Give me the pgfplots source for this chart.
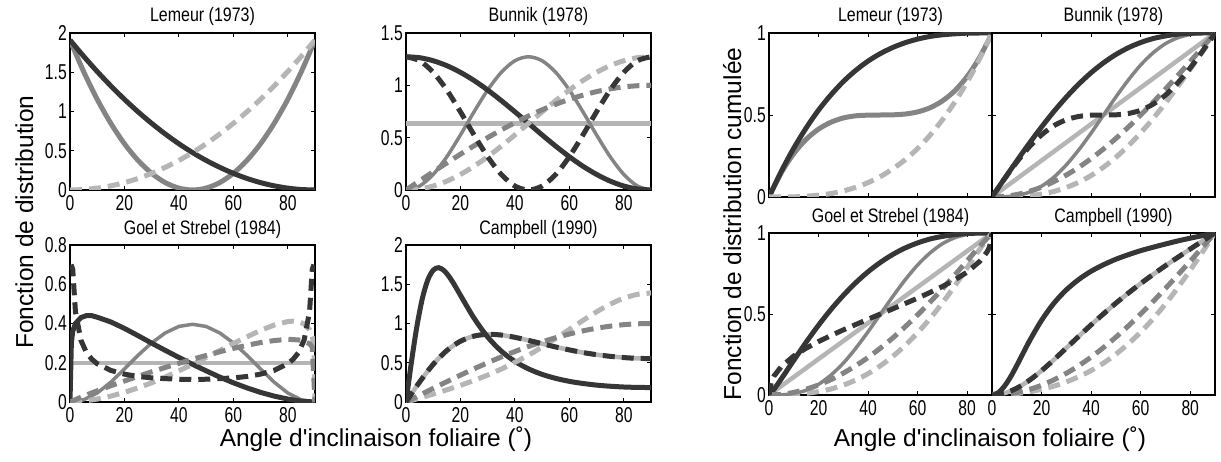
\documentclass[border=0pt]{standalone}
\usepackage{fontspec}
\setmainfont{Liberation Sans}
\newfontfamily\condfont[FakeStretch=0.73]{Liberation Sans}
\newfontfamily\tcondfont[FakeStretch=0.82]{Liberation Sans}
\usepackage{pgfplots}
\pgfplotsset{compat=1.18}
\definecolor{cdark}{HTML}{363636}
\definecolor{cmid}{HTML}{848484}
\definecolor{clight}{HTML}{B5B5B5}
\newcommand\tickfont{\condfont\fontsize{21.5}{23}\selectfont}
\newcommand\titlefont{\tcondfont\fontsize{19.5}{22}\selectfont}
\newcommand\labelfont{\fontsize{24.5}{28}\selectfont}
\pgfplotsset{
  panel/.style={scale only axis, anchor=south west, xmin=0, xmax=90,
    xtick={0,20,40,60,80}, xticklabels={0,20,40,60,80},
    tick align=inside, major tick length=4pt,
    axis line style={line width=1.2pt},
    every tick/.append style={black, line width=0.9pt},
    tick label style={font=\tickfont, inner sep=1pt},
    xticklabel style={yshift=-4pt}, yticklabel style={xshift=-2pt},
    title style={font=\titlefont, at={(0.5,1)}, anchor=base, yshift=5pt, xshift=10pt},
    no markers},
  dsol/.style={cdark, line width=5pt, solid},
  msol/.style={cmid, line width=5pt, solid},
  msolt/.style={cmid, line width=3.5pt, solid},
  lsol/.style={clight, line width=4.5pt, solid},
  ddash/.style={cdark, line width=5pt, dash pattern=on 12pt off 7pt},
  mdash/.style={cmid, line width=5pt, dash pattern=on 12pt off 7pt},
  ldash/.style={clight, line width=5pt, dash pattern=on 12pt off 7pt},
}
\begin{document}
\begin{tikzpicture}
\useasboundingbox (0,0) rectangle (1221pt,461pt);
% ---------------- Lemeur density
\begin{axis}[panel, at={(70pt,271pt)}, width=245pt, height=157pt, ymin=0, ymax=2,
  ytick={0,0.5,1,1.5,2}, yticklabels={0,0.5,1,1.5,2}, title={Lemeur (1973)}]
\addplot[msol, smooth] coordinates {(0,1.910)(5,1.509)(10,1.155)(15,0.849)(20,0.589)(25,0.377)(30,0.212)(35,0.094)(40,0.024)(45,0)(50,0.024)(55,0.094)(60,0.212)(65,0.377)(70,0.589)(75,0.849)(80,1.155)(85,1.509)(90,1.910)};
\addplot[dsol, smooth] coordinates {(0,1.910)(5,1.704)(10,1.509)(15,1.326)(20,1.155)(25,0.996)(30,0.849)(35,0.713)(40,0.589)(45,0.477)(50,0.377)(55,0.289)(60,0.212)(65,0.147)(70,0.094)(75,0.053)(80,0.024)(85,0.006)(90,0)};
\addplot[ldash, smooth] coordinates {(0,0)(5,0.006)(10,0.024)(15,0.053)(20,0.094)(25,0.147)(30,0.212)(35,0.289)(40,0.377)(45,0.477)(50,0.589)(55,0.713)(60,0.849)(65,0.996)(70,1.155)(75,1.326)(80,1.509)(85,1.704)(90,1.910)};
\end{axis}
% ---------------- Bunnik density
\begin{axis}[panel, at={(406pt,271pt)}, width=245pt, height=157pt, ymin=0, ymax=1.5,
  ytick={0,0.5,1,1.5}, yticklabels={0,0.5,1,1.5}, title={Bunnik (1978)}]
\addplot[lsol] coordinates {(0,0.637)(90,0.637)};
\addplot[msolt, smooth] coordinates {(0,0)(5,0.038)(10,0.149)(15,0.318)(20,0.526)(25,0.747)(30,0.955)(35,1.124)(40,1.235)(45,1.273)(50,1.235)(55,1.124)(60,0.955)(65,0.747)(70,0.526)(75,0.318)(80,0.149)(85,0.038)(90,0)};
\addplot[dsol, smooth] coordinates {(0,1.273)(5,1.264)(10,1.235)(15,1.188)(20,1.124)(25,1.046)(30,0.955)(35,0.854)(40,0.747)(45,0.637)(50,0.526)(55,0.419)(60,0.318)(65,0.227)(70,0.149)(75,0.085)(80,0.038)(85,0.010)(90,0)};
\addplot[ldash, smooth] coordinates {(0,0)(5,0.010)(10,0.038)(15,0.085)(20,0.149)(25,0.227)(30,0.318)(35,0.419)(40,0.526)(45,0.637)(50,0.747)(55,0.854)(60,0.955)(65,1.046)(70,1.124)(75,1.188)(80,1.235)(85,1.264)(90,1.273)};
\addplot[mdash, smooth] coordinates {(0,0)(5,0.087)(10,0.174)(15,0.259)(20,0.342)(25,0.423)(30,0.500)(35,0.574)(40,0.643)(45,0.707)(50,0.766)(55,0.819)(60,0.866)(65,0.906)(70,0.940)(75,0.966)(80,0.985)(85,0.996)(90,1)};
\addplot[ddash, smooth] coordinates {(0,1.273)(5,1.235)(10,1.124)(15,0.955)(20,0.747)(25,0.526)(30,0.318)(35,0.149)(40,0.038)(45,0)(50,0.038)(55,0.149)(60,0.318)(65,0.526)(70,0.747)(75,0.955)(80,1.124)(85,1.235)(90,1.273)};
\end{axis}
% ---------------- Goel density
\begin{axis}[panel, at={(70pt,59pt)}, width=245pt, height=157pt, ymin=0, ymax=0.8,
  ytick={0,0.2,0.4,0.6,0.8}, yticklabels={0,0.2,0.4,0.6,0.8}, title={Goel et Strebel (1984)}]
\addplot[lsol] coordinates {(0,0.2)(90,0.2)};
\addplot[msolt] coordinates {(0,0)(5,0.011)(10,0.046)(15,0.101)(20,0.168)(25,0.238)(30,0.301)(35,0.352)(40,0.385)(45,0.396)(50,0.385)(55,0.352)(60,0.301)(65,0.238)(70,0.168)(75,0.101)(80,0.046)(85,0.011)(90,0)};
\addplot[dsol] coordinates {(0,0)(0.5,0.30)(1,0.36)(2,0.40)(4,0.43)(6,0.44)(8,0.44)(10,0.432)(15,0.408)(20,0.375)(25,0.338)(30,0.300)(35,0.263)(40,0.227)(45,0.192)(50,0.159)(55,0.127)(60,0.098)(65,0.072)(70,0.049)(75,0.030)(80,0.015)(85,0.004)(90,0)};
\addplot[ldash] coordinates {(0,0)(5,0.004)(10,0.015)(15,0.030)(20,0.049)(25,0.072)(30,0.098)(35,0.127)(40,0.159)(45,0.192)(50,0.227)(55,0.262)(60,0.298)(65,0.332)(70,0.365)(75,0.392)(80,0.410)(82,0.412)(84,0.409)(86,0.398)(88,0.368)(89,0.333)(89.6,0.29)(90,0)};
\addplot[mdash] coordinates {(0,0)(5,0.030)(10,0.057)(15,0.083)(20,0.107)(25,0.131)(30,0.154)(35,0.176)(40,0.197)(45,0.218)(50,0.237)(55,0.256)(60,0.273)(65,0.289)(70,0.303)(75,0.313)(80,0.320)(85,0.315)(88,0.297)(89,0.280)(90,0)};
\addplot[ddash] coordinates {(0.4,0.70)(1,0.677)(2,0.460)(4,0.315)(6,0.253)(8,0.218)(10,0.195)(15,0.161)(20,0.142)(25,0.130)(30,0.123)(35,0.119)(40,0.116)(45,0.115)(50,0.116)(55,0.119)(60,0.123)(65,0.130)(70,0.142)(75,0.161)(80,0.195)(82,0.218)(84,0.253)(86,0.315)(88,0.460)(89,0.677)(89.6,0.70)};
\end{axis}
% ---------------- Campbell density
\begin{axis}[panel, at={(406pt,59pt)}, width=245pt, height=157pt, ymin=0, ymax=2,
  ytick={0,0.5,1,1.5,2}, yticklabels={0,0.5,1,1.5,2}, title={Campbell (1990)}]
\addplot[lsol, smooth] coordinates {(0,0)(5,0.255)(10,0.480)(15,0.656)(20,0.774)(25,0.840)(30,0.862)(35,0.853)(40,0.824)(45,0.785)(50,0.743)(55,0.701)(60,0.664)(65,0.630)(70,0.603)(75,0.582)(80,0.566)(85,0.556)(90,0.553)};
\addplot[dsol, smooth] coordinates {(0,0)(2,0.510)(4,0.963)(6,1.318)(8,1.555)(10,1.680)(12,1.711)(14,1.673)(16,1.589)(18,1.480)(20,1.360)(25,1.068)(30,0.828)(35,0.648)(40,0.517)(45,0.422)(50,0.352)(55,0.301)(60,0.263)(65,0.236)(70,0.215)(75,0.201)(80,0.191)(85,0.186)(90,0.184)};
\addplot[ldash, smooth] coordinates {(0,0)(5,0.050)(10,0.101)(15,0.155)(20,0.212)(25,0.275)(30,0.343)(35,0.420)(40,0.505)(45,0.598)(50,0.700)(55,0.810)(60,0.924)(65,1.039)(70,1.149)(75,1.246)(80,1.322)(85,1.371)(90,1.389)};
\addplot[mdash, smooth] coordinates {(0,0)(5,0.087)(10,0.174)(15,0.259)(20,0.342)(25,0.423)(30,0.500)(35,0.574)(40,0.643)(45,0.707)(50,0.766)(55,0.819)(60,0.866)(65,0.906)(70,0.940)(75,0.966)(80,0.985)(85,0.996)(90,1)};
\addplot[ddash, smooth] coordinates {(0,0)(5,0.255)(10,0.480)(15,0.656)(20,0.774)(25,0.840)(30,0.862)(35,0.853)(40,0.824)(45,0.785)(50,0.743)(55,0.701)(60,0.664)(65,0.630)(70,0.603)(75,0.582)(80,0.566)(85,0.556)(90,0.553)};
\end{axis}
% ================= Cumulative
\begin{axis}[panel, at={(769pt,264pt)}, width=223pt, height=164pt, ymin=0, ymax=1,
  ytick={0,0.5,1}, yticklabels={0,0.5,1}, xticklabels={}, title={Lemeur (1973)}]
\addplot[msol, smooth] coordinates {(0,0)(5,0.149)(10,0.265)(15,0.352)(20,0.414)(25,0.456)(30,0.482)(35,0.495)(40,0.499)(45,0.5)(50,0.501)(55,0.506)(60,0.519)(65,0.544)(70,0.586)(75,0.648)(80,0.735)(85,0.851)(90,1)};
\addplot[dsol, smooth] coordinates {(0,0)(5,0.158)(10,0.298)(15,0.421)(20,0.530)(25,0.623)(30,0.704)(35,0.772)(40,0.829)(45,0.875)(50,0.912)(55,0.941)(60,0.963)(65,0.979)(70,0.989)(75,0.995)(80,0.999)(85,1)(90,1)};
\addplot[ldash, smooth] coordinates {(0,0)(5,0.0002)(10,0.001)(15,0.005)(20,0.011)(25,0.021)(30,0.037)(35,0.059)(40,0.088)(45,0.125)(50,0.172)(55,0.228)(60,0.296)(65,0.377)(70,0.471)(75,0.579)(80,0.702)(85,0.842)(90,1)};
\end{axis}
\begin{axis}[panel, at={(992pt,264pt)}, width=223pt, height=164pt, ymin=0, ymax=1,
  ytick={0,0.5,1}, yticklabels={}, xticklabels={}, title={Bunnik (1978)}]
\addplot[lsol] coordinates {(0,0)(90,1)};
\addplot[msolt, smooth] coordinates {(0,0)(5,0.001)(10,0.009)(15,0.029)(20,0.066)(25,0.121)(30,0.196)(35,0.287)(40,0.390)(45,0.5)(50,0.610)(55,0.713)(60,0.805)(65,0.879)(70,0.935)(75,0.971)(80,0.991)(85,0.999)(90,1)};
\addplot[dsol, smooth] coordinates {(0,0)(5,0.111)(10,0.220)(15,0.326)(20,0.427)(25,0.522)(30,0.609)(35,0.688)(40,0.758)(45,0.818)(50,0.869)(55,0.910)(60,0.942)(65,0.966)(70,0.982)(75,0.993)(80,0.998)(85,1)(90,1)};
\addplot[ldash, smooth] coordinates {(0,0)(5,0.0003)(10,0.002)(15,0.008)(20,0.018)(25,0.034)(30,0.058)(35,0.090)(40,0.131)(45,0.182)(50,0.242)(55,0.312)(60,0.391)(65,0.478)(70,0.573)(75,0.674)(80,0.780)(85,0.889)(90,1)};
\addplot[mdash, smooth] coordinates {(0,0)(5,0.004)(10,0.015)(15,0.034)(20,0.060)(25,0.094)(30,0.134)(35,0.181)(40,0.234)(45,0.293)(50,0.357)(55,0.426)(60,0.5)(65,0.577)(70,0.658)(75,0.741)(80,0.826)(85,0.913)(90,1)};
\addplot[ddash, smooth] coordinates {(0,0)(5,0.110)(10,0.213)(15,0.305)(20,0.379)(25,0.435)(30,0.471)(35,0.491)(40,0.499)(45,0.5)(50,0.501)(55,0.509)(60,0.529)(65,0.566)(70,0.621)(75,0.696)(80,0.787)(85,0.890)(90,1)};
\end{axis}
\begin{axis}[panel, at={(769pt,66pt)}, width=223pt, height=162pt, ymin=0, ymax=1,
  ytick={0,0.5,1}, yticklabels={0,0.5,1}, title={Goel et Strebel (1984)}]
\addplot[lsol] coordinates {(0,0)(90,1)};
\addplot[msolt, smooth] coordinates {(0,0)(5,0.001)(10,0.009)(15,0.029)(20,0.066)(25,0.123)(30,0.197)(35,0.288)(40,0.391)(45,0.5)(50,0.609)(55,0.712)(60,0.803)(65,0.877)(70,0.934)(75,0.971)(80,0.991)(85,0.999)(90,1)};
\addplot[dsol, smooth] coordinates {(0,0)(2,0.035)(4,0.078)(6,0.123)(8,0.169)(10,0.214)(15,0.326)(20,0.431)(25,0.528)(30,0.615)(35,0.693)(40,0.761)(45,0.819)(50,0.868)(55,0.908)(60,0.939)(65,0.963)(70,0.979)(75,0.990)(80,0.997)(85,0.999)(90,1)};
\addplot[ldash, smooth] coordinates {(0,0)(5,0.001)(10,0.003)(15,0.010)(20,0.021)(25,0.037)(30,0.061)(35,0.092)(40,0.132)(45,0.181)(50,0.239)(55,0.307)(60,0.385)(65,0.472)(70,0.569)(75,0.674)(80,0.786)(85,0.899)(90,1)};
\addplot[mdash, smooth] coordinates {(0,0)(5,0.004)(10,0.016)(15,0.036)(20,0.062)(25,0.095)(30,0.135)(35,0.181)(40,0.232)(45,0.290)(50,0.353)(55,0.422)(60,0.495)(65,0.573)(70,0.655)(75,0.741)(80,0.829)(85,0.917)(90,1)};
\addplot[ddash] coordinates {(0,0)(1,0.085)(2,0.117)(5,0.176)(10,0.241)(15,0.289)(20,0.330)(25,0.367)(30,0.402)(35,0.435)(40,0.468)(45,0.5)(50,0.532)(55,0.565)(60,0.598)(65,0.633)(70,0.670)(75,0.711)(80,0.759)(85,0.824)(88,0.883)(89,0.915)(90,1)};
\end{axis}
\begin{axis}[panel, at={(992pt,66pt)}, width=223pt, height=162pt, ymin=0, ymax=1,
  ytick={0,0.5,1}, yticklabels={}, title={Campbell (1990)}]
\addplot[lsol, smooth] coordinates {(0,0)(5,0.011)(10,0.042)(15,0.090)(20,0.150)(25,0.218)(30,0.290)(35,0.362)(40,0.433)(45,0.501)(50,0.567)(55,0.629)(60,0.688)(65,0.744)(70,0.798)(75,0.850)(80,0.901)(85,0.951)(90,1)};
\addplot[dsol, smooth] coordinates {(0,0)(2.5,0.014)(5,0.054)(7.5,0.112)(10,0.182)(15,0.330)(20,0.461)(25,0.567)(30,0.649)(35,0.713)(40,0.764)(45,0.804)(50,0.838)(55,0.866)(60,0.891)(65,0.912)(70,0.932)(75,0.951)(80,0.968)(85,0.984)(90,1)};
\addplot[ldash, smooth] coordinates {(0,0)(5,0.002)(10,0.009)(15,0.020)(20,0.035)(25,0.055)(30,0.081)(35,0.113)(40,0.151)(45,0.197)(50,0.252)(55,0.316)(60,0.388)(65,0.470)(70,0.562)(75,0.663)(80,0.771)(85,0.884)(90,1)};
\addplot[mdash, smooth] coordinates {(0,0)(5,0.004)(10,0.015)(15,0.034)(20,0.060)(25,0.094)(30,0.134)(35,0.181)(40,0.234)(45,0.293)(50,0.357)(55,0.426)(60,0.5)(65,0.577)(70,0.658)(75,0.741)(80,0.826)(85,0.913)(90,1)};
\addplot[ddash, smooth] coordinates {(0,0)(5,0.011)(10,0.042)(15,0.090)(20,0.150)(25,0.218)(30,0.290)(35,0.362)(40,0.433)(45,0.501)(50,0.567)(55,0.629)(60,0.688)(65,0.744)(70,0.798)(75,0.850)(80,0.901)(85,0.951)(90,1)};
\end{axis}
% ---------------- shared labels
\node[font=\labelfont, anchor=base] at (376pt,15pt) {Angle d\textquotesingle inclinaison foliaire (˚)};
\node[font=\labelfont, anchor=base] at (990pt,15pt) {Angle d\textquotesingle inclinaison foliaire (˚)};
\node[font=\labelfont, rotate=90, anchor=base] at (33pt,239pt) {Fonction de distribution};
\node[font=\labelfont, rotate=90, anchor=base] at (741pt,237pt) {Fonction de distribution cumulée};
\end{tikzpicture}
\end{document}
